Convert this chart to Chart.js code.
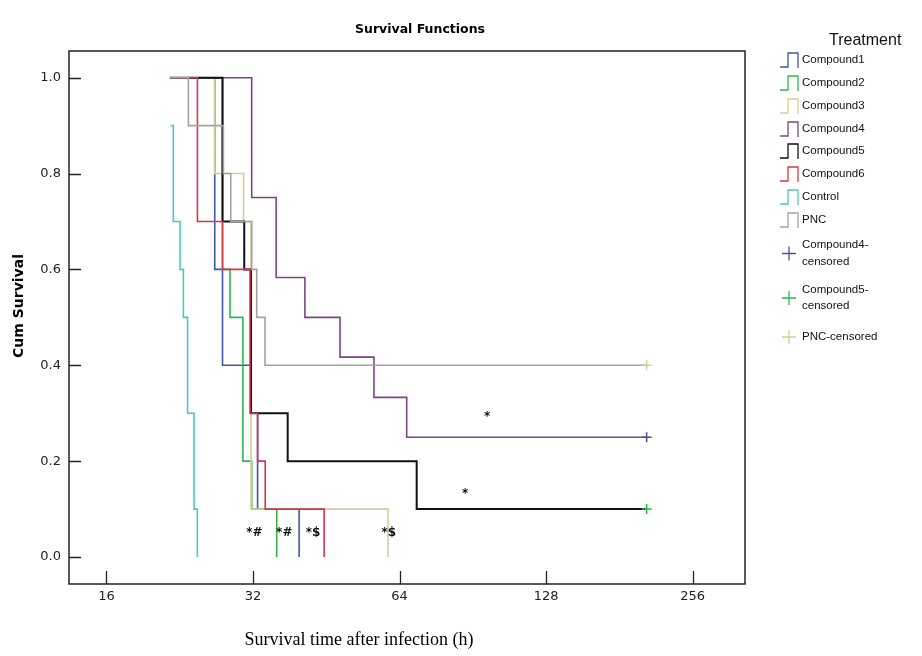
<!DOCTYPE html>
<html>
<head>
<meta charset="utf-8">
<script src="https://cdn.jsdelivr.net/npm/chart.js@4.4.1/dist/chart.umd.min.js"></script>
<style>
  html, body { margin: 0; padding: 0; background: #ffffff; }
  #wrap { width: 922px; height: 656px; position: relative; }
</style>
</head>
<body>
<div id="wrap"><canvas id="c" width="922" height="656"></canvas></div>
<script>
// ---------- data ----------
const seriesNames = ['Compound1','Compound2','Compound3','Compound4','Compound5','Compound6','Control','PNC'];
const seriesColors = ['#3e58ac','#2eb848','#d3ce97','#7b4686','#111111','#d8344c','#4fc6c6','#a2a2a2'];

// event times (h) and survival value after each time
const comp1Times = [21.6, 26.7, 27.7, 31.7, 32.7, 39.8];
const comp1Surv  = [1.0, 0.6, 0.4, 0.3, 0.1, 0.0];
const comp2Times = [21.6, 27.7, 28.7, 30.5, 31.8, 35.8];
const comp2Surv  = [1.0, 0.6, 0.5, 0.2, 0.1, 0.0];
const comp3Times = [21.6, 26.7, 30.6, 31.7, 60.6];
const comp3Surv  = [1.0, 0.8, 0.7, 0.1, 0.0];
const comp4Times = [21.6, 31.8, 35.7, 40.9, 48.3, 56.7, 66.2, 206];
const comp4Surv  = [1.0, 0.75, 0.583, 0.5, 0.417, 0.333, 0.25, 0.25];
const comp5Times = [21.6, 27.7, 30.7, 31.7, 37.7, 69.4, 206];
const comp5Surv  = [1.0, 0.7, 0.6, 0.3, 0.2, 0.1, 0.1];
const comp6Times = [21.6, 24.6, 27.7, 31.55, 32.7, 33.9, 44.8];
const comp6Surv  = [1.0, 0.7, 0.6, 0.3, 0.2, 0.1, 0.0];
const controlTimes = [21.68, 21.95, 22.66, 23.02, 23.48, 24.21, 24.59];
const controlSurv  = [0.9, 0.7, 0.6, 0.5, 0.3, 0.1, 0.0];
const pncTimes = [21.6, 23.57, 27.81, 28.8, 31.81, 32.57, 33.87, 206];
const pncSurv  = [1.0, 0.9, 0.8, 0.7, 0.6, 0.5, 0.4, 0.4];

// censored observations
const censorNames  = [['Compound4-','censored'], ['Compound5-','censored'], ['PNC-censored']];
const censorColors = ['#4a4f9a', '#2eb848', '#d3ce97'];
const censorTimes  = [206, 206, 206];
const censorSurv   = [0.25, 0.1, 0.4];

// significance marks
const markTexts = ['*#', '*#', '*$', '*$', '*', '*'];
const markTimes = [32.2, 37.1, 42.5, 60.8, 96.8, 87.3];
const markSurv  = [0.05, 0.05, 0.05, 0.05, 0.292, 0.131];

// axes
const xTicks = [16, 32, 64, 128, 256];
const yTicks = [0.0, 0.2, 0.4, 0.6, 0.8, 1.0];
const xMin = 13.4, xMax = 328;
const yMin = -0.0563, yMax = 1.0557;

const chartTitle = 'Survival Functions';
const xTitle = 'Survival time after infection (h)';
const yTitle = 'Cum Survival';
const legendTitle = 'Treatment';

// ---------- build datasets ----------
const allTimes = [comp1Times, comp2Times, comp3Times, comp4Times, comp5Times, comp6Times, controlTimes, pncTimes];
const allSurv  = [comp1Surv, comp2Surv, comp3Surv, comp4Surv, comp5Surv, comp6Surv, controlSurv, pncSurv];

const datasets = seriesNames.map((name, i) => ({
  type: 'line',
  label: name,
  data: allTimes[i].map((t, k) => ({ x: t, y: allSurv[i][k] })),
  borderColor: seriesColors[i],
  borderWidth: name === 'Compound5' ? 2 : 1.6,
  stepped: 'before',
  pointRadius: 0,
  fill: false,
  order: seriesNames.length - i + 1
}));
censorNames.forEach((nm, i) => {
  datasets.push({
    type: 'scatter',
    label: nm.join(''),
    data: [{ x: censorTimes[i], y: censorSurv[i] }],
    pointStyle: 'cross',
    pointRadius: 5,
    borderColor: censorColors[i],
    backgroundColor: censorColors[i],
    borderWidth: 1.5,
    showLine: false,
    order: 0
  });
});

// ---------- decorations plugin ----------
const decor = {
  id: 'decor',
  afterDatasetsDraw(chart) {
    const ctx = chart.ctx;
    const a = chart.chartArea;
    const xs = chart.scales.x, ys = chart.scales.y;
    ctx.save();
    // frame
    ctx.strokeStyle = '#222';
    ctx.lineWidth = 1.5;
    ctx.strokeRect(a.left, a.top, a.right - a.left, a.bottom - a.top);
    // inward ticks
    ctx.beginPath();
    yTicks.forEach(v => {
      const y = Math.round(ys.getPixelForValue(v)) + 0.5;
      ctx.moveTo(a.left, y); ctx.lineTo(a.left + 12, y);
    });
    xTicks.forEach(v => {
      const x = Math.round(xs.getPixelForValue(v)) + 0.5;
      ctx.moveTo(x, a.bottom); ctx.lineTo(x, a.bottom - 13);
    });
    ctx.lineWidth = 1.3;
    ctx.stroke();

    // significance marks
    ctx.fillStyle = '#111';
    ctx.font = 'bold 12px "DejaVu Sans"';
    ctx.textAlign = 'center';
    ctx.textBaseline = 'middle';
    markTexts.forEach((t, i) => {
      ctx.fillText(t, xs.getPixelForValue(markTimes[i]), ys.getPixelForValue(markSurv[i]));
    });

    // chart title
    ctx.font = 'bold 12.5px "DejaVu Sans"';
    ctx.fillStyle = '#000';
    ctx.fillText(chartTitle, 420, 30);

    // y-axis title
    ctx.save();
    ctx.translate(19, 306);
    ctx.rotate(-Math.PI / 2);
    ctx.font = 'bold 14px "DejaVu Sans"';
    ctx.fillText(yTitle, 0, 0);
    ctx.restore();

    // x-axis title
    ctx.font = '18px "Liberation Serif"';
    ctx.fillText(xTitle, 359, 640);

    // legend
    ctx.textAlign = 'left';
    ctx.font = '16px "Liberation Sans"';
    ctx.fillStyle = '#111';
    ctx.fillText(legendTitle, 829, 41);
    ctx.font = '11.5px "Liberation Sans"';
    const rowY = [60, 83, 106, 129, 151, 174, 197, 220];
    seriesNames.forEach((nm, i) => {
      const yc = rowY[i];
      ctx.beginPath();
      ctx.moveTo(780, yc + 7);
      ctx.lineTo(788, yc + 7);
      ctx.lineTo(788, yc - 7);
      ctx.lineTo(798, yc - 7);
      ctx.lineTo(798, yc + 8);
      ctx.strokeStyle = seriesColors[i];
      ctx.lineWidth = 1.3;
      ctx.stroke();
      ctx.fillStyle = '#111';
      ctx.fillText(nm, 802, yc);
    });
    const cRows = [[245, 262], [290, 306], [337]];
    censorNames.forEach((lines, i) => {
      const rows = cRows[i];
      const yc = rows.length > 1 ? (rows[0] + rows[1]) / 2 : rows[0];
      ctx.beginPath();
      ctx.moveTo(782, yc); ctx.lineTo(796, yc);
      ctx.moveTo(789, yc - 7); ctx.lineTo(789, yc + 7);
      ctx.strokeStyle = censorColors[i];
      ctx.lineWidth = 1.3;
      ctx.stroke();
      ctx.fillStyle = '#111';
      lines.forEach((ln, k) => ctx.fillText(ln, 802, rows[k]));
    });
    ctx.restore();
  }
};

new Chart(document.getElementById('c').getContext('2d'), {
  data: { datasets },
  options: {
    responsive: false,
    animation: false,
    layout: { padding: { left: 0, top: 51, right: 177, bottom: 0 } },
    plugins: { legend: { display: false }, title: { display: false }, tooltip: { enabled: false } },
    scales: {
      x: {
        type: 'logarithmic',
        min: xMin, max: xMax,
        afterBuildTicks: s => { s.ticks = xTicks.map(v => ({ value: v })); },
        afterFit: s => { s.height = 72; },
        grid: { display: false, drawTicks: false },
        border: { display: false },
        ticks: {
          autoSkip: false, maxRotation: 0, padding: 5,
          color: '#222', font: { family: 'DejaVu Sans', size: 13 },
          callback: v => String(v)
        }
      },
      y: {
        type: 'linear',
        min: yMin, max: yMax,
        afterBuildTicks: s => { s.ticks = yTicks.map(v => ({ value: v })); },
        afterFit: s => { s.width = 69; },
        grid: { display: false, drawTicks: false },
        border: { display: false },
        ticks: {
          padding: 8, color: '#222', font: { family: 'DejaVu Sans', size: 13 },
          callback: v => Number(v).toFixed(1)
        }
      }
    }
  },
  plugins: [decor]
});
</script>
</body>
</html>
